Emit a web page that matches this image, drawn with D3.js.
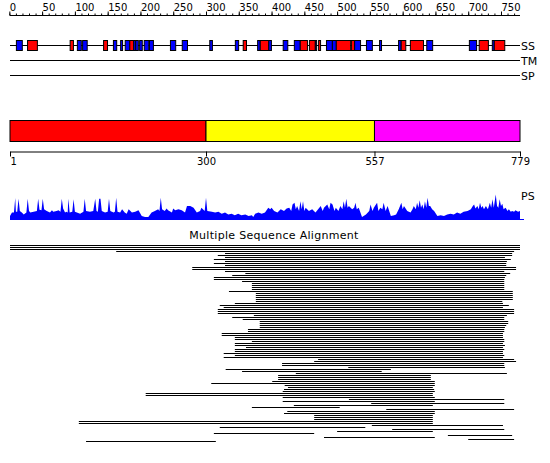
<!DOCTYPE html>
<html><head><meta charset="utf-8">
<script src="https://cdn.jsdelivr.net/npm/d3@7/dist/d3.min.js"></script>
<style>
body{margin:0;background:#fff;}
svg{display:block;font-family:"DejaVu Sans",sans-serif;}
</style></head>
<body><svg id="c" width="550" height="463"></svg>
<script>
// ---------- DATA ----------
const seqLength = 779;
const rulerTicks = d3.range(0, 771, 10);
const rulerLabels = d3.range(0, 751, 50);
const trackNames = ["SS", "TM", "SP"];

// secondary structure elements (residue start, end, type)
const ssStart = [10,27,92,103,111,143,158,169,176,183,189,192,198,205,213,245,263,305,344,356,378,382,395,417,434,443,457,466,471,483,492,498,521,526,544,564,593,597,611,636,701,716,736,739];
const ssEnd   = [19,42,97,109,118,149,163,172,183,189,192,196,202,212,219,253,271,309,349,361,382,395,399,424,443,454,466,468,474,492,498,520,526,535,553,567,597,604,631,645,712,730,739,755];
const ssType  = ["E","H","H","E","E","H","E","E","E","H","E","E","E","E","E","E","E","E","E","H","E","H","E","E","E","H","H","E","H","E","E","H","H","E","E","E","E","H","H","E","E","H","E","H"];

// domains
const domainStart = [1, 300, 557];
const domainEnd   = [300, 557, 779];
const domainColor = ["#ff0000", "#ffff00", "#ff00ff"];
const domainTicks = [1, 300, 557, 779];

// PS profile (residue, score)
const psPos = [1,4,7,9,10,12,14,16,19,22,26,28,30,32,37,42,44,46,49,51,53,57,62,65,67,72,75,78,80,82,85,87,89,90,92,96,98,100,103,108,113,115,117,123,128,131,133,135,137,139,141,146,150,152,154,159,161,163,165,169,172,176,179,182,187,192,197,202,207,212,217,222,227,229,231,233,237,240,242,248,250,253,258,263,268,271,276,281,286,291,293,298,300,302,309,314,319,324,329,334,339,344,349,354,360,365,370,372,375,380,385,390,395,398,400,404,409,414,419,423,427,430,432,435,437,439,442,444,446,448,450,452,457,462,467,471,475,478,480,485,488,490,493,496,498,502,505,508,510,512,514,516,518,523,526,528,530,533,538,544,549,551,554,556,561,563,566,569,571,574,577,582,587,590,594,598,600,602,607,612,615,617,620,622,624,626,628,630,632,634,636,638,640,642,645,648,653,658,663,668,673,678,683,688,693,699,704,707,709,711,714,716,718,720,722,724,727,730,733,735,737,739,742,744,746,748,750,752,754,757,760,762,765,767,770,772,776,779];
const psVal = [16,29,29,86,32,32,83,35,29,22,29,83,35,29,32,35,83,40,38,83,42,35,29,38,32,35,38,32,83,45,29,32,29,83,29,32,81,32,29,25,32,83,35,32,35,83,35,32,83,83,35,29,32,83,35,29,32,87,32,29,42,29,25,42,29,32,38,16,12,12,29,35,42,35,87,42,35,45,38,29,45,38,42,38,29,55,55,48,29,35,48,35,87,35,32,29,32,25,29,22,25,19,25,19,22,16,19,12,25,29,25,29,48,42,48,35,29,42,35,45,48,35,61,68,42,55,35,74,42,74,35,48,35,42,29,42,55,35,48,61,42,68,61,35,48,35,55,42,74,48,83,48,55,42,48,68,42,48,12,22,35,61,35,48,68,35,48,42,68,35,55,16,19,22,42,68,42,55,35,29,42,55,42,68,48,77,48,61,42,74,48,87,55,55,42,35,16,19,16,22,25,22,29,25,32,35,42,55,61,45,55,42,68,48,55,42,55,42,68,48,81,48,100,55,48,81,55,64,42,48,35,42,32,35,32,38,32,35];

// multiple sequence alignment rows (residue start, end)
const msaStart = [1,1,1,163,329,318,329,312,329,312,329,279,279,329,360,340,312,312,355,370,370,370,370,335,376,376,376,376,376,344,321,327,318,318,318,373,340,356,382,382,382,382,364,364,324,324,344,344,
370,344,344,361,344,344,327,344,327,471,465,416,416,517,330,355,437,410,410,410,401,308,420,425,419,417,208,208,417,518,417,552,434,370,575,424,419,465,465,465,106,106,553,321,584,500,312,669,480,700,117];
const msaEnd = [779,779,779,770,767,767,756,765,759,758,758,773,773,755,764,758,756,755,755,755,755,755,755,768,768,768,768,768,752,753,762,753,770,770,770,759,755,755,761,761,758,756,755,755,753,753,753,755,
755,753,756,753,755,753,753,755,753,770,773,755,755,756,582,568,759,643,643,643,649,649,649,646,648,649,646,646,649,755,649,755,646,504,770,649,649,646,646,646,646,646,753,543,755,646,465,767,649,770,315];
const msaTitle = "Multiple Sequence Alignment";

// ---------- DRAW ----------
const svg = d3.select("#c");
const x = d3.scaleLinear().domain([1, seqLength]).range([10, 520]);

// ruler
const ruler = svg.append("g").attr("transform", "translate(0,15.5)");
ruler.append("line").attr("x1", x(1)).attr("x2", x(seqLength)).attr("stroke", "#000");
ruler.call(d3.axisTop(x).tickValues(rulerTicks).tickSize(2).tickSizeOuter(0).tickFormat(""))
  .call(g => g.select(".domain").remove());
const major = svg.append("g").attr("transform", "translate(0,15.5)")
  .call(d3.axisTop(x).tickValues(rulerLabels).tickSize(4).tickSizeOuter(0).tickPadding(1).tickFormat(d3.format("d")));
major.select(".domain").remove();
major.selectAll("text").attr("text-anchor", "start").attr("x", 0).attr("font-size", 10).attr("font-family", "DejaVu Sans").attr("fill", "#000");
svg.selectAll(".tick line").attr("stroke", "#000");

// tracks
const trackY = [45, 60, 75];
trackNames.forEach((n, i) => {
  svg.append("line").attr("x1", x(1)).attr("x2", x(seqLength))
    .attr("y1", trackY[i] + 0.5).attr("y2", trackY[i] + 0.5).attr("stroke", "#000");
  svg.append("text").attr("x", 521).attr("y", trackY[i] + 4.5).attr("font-size", 11).text(n);
});
const ss = ssStart.map((s, i) => ({s, e: ssEnd[i], t: ssType[i]}));
svg.append("g").selectAll("rect").data(ss).join("rect")
  .attr("x", d => x(d.s) + 0.5).attr("y", 40.5)
  .attr("width", d => Math.max(1, x(d.e) - x(d.s))).attr("height", 10)
  .attr("fill", d => d.t === "H" ? "#ff0000" : "#0000ff")
  .attr("stroke", "#000").attr("stroke-width", 1);

// domains
const doms = domainStart.map((s, i) => ({s, e: domainEnd[i], c: domainColor[i]}));
svg.append("g").selectAll("rect").data(doms).join("rect")
  .attr("x", d => x(d.s)).attr("y", 120.5)
  .attr("width", d => x(d.e) - x(d.s)).attr("height", 21)
  .attr("fill", d => d.c).attr("stroke", "#000");
const dax = svg.append("g").attr("transform", "translate(0,151.5)")
  .call(d3.axisBottom(x).tickValues(domainTicks).tickSize(5).tickSizeOuter(0).tickPadding(1));
dax.selectAll("text").attr("font-size", 10).attr("font-family", "DejaVu Sans").attr("fill", "#000");
dax.selectAll("line, path").attr("stroke", "#000");
dax.selectAll(".tick").filter(d => d === 1).select("text").attr("text-anchor", "start").attr("x", 0);

// PS profile
const py = d3.scaleLinear().domain([0, 100]).range([220, 194.5]);
const ps = psPos.map((p, i) => ({p, v: psVal[i]}));
svg.append("path").datum(ps)
  .attr("d", d3.area().x(d => x(d.p)).y0(220).y1(d => py(d.v)))
  .attr("fill", "#0000ff");
svg.append("line").attr("x1", x(1)).attr("x2", x(seqLength) + 4)
  .attr("y1", 219.5).attr("y2", 219.5).attr("stroke", "#0000ff");
svg.append("text").attr("x", 521).attr("y", 200).attr("font-size", 11).text("PS");

// MSA
svg.append("text").attr("x", 274).attr("y", 238.5).attr("text-anchor", "middle")
  .attr("font-size", 11).attr("letter-spacing", 0.3).text(msaTitle);
const rowY = d3.scaleLinear().domain([0, msaStart.length - 1]).range([245, 245 + 2 * (msaStart.length - 1)]);
const rows = msaStart.map((s, i) => ({s, e: msaEnd[i], i}));
svg.append("g").selectAll("rect").data(rows).join("rect")
  .attr("x", d => x(d.s)).attr("y", d => rowY(d.i))
  .attr("width", d => x(d.e) - x(d.s)).attr("height", 1)
  .attr("fill", "#000");
</script></body></html>
